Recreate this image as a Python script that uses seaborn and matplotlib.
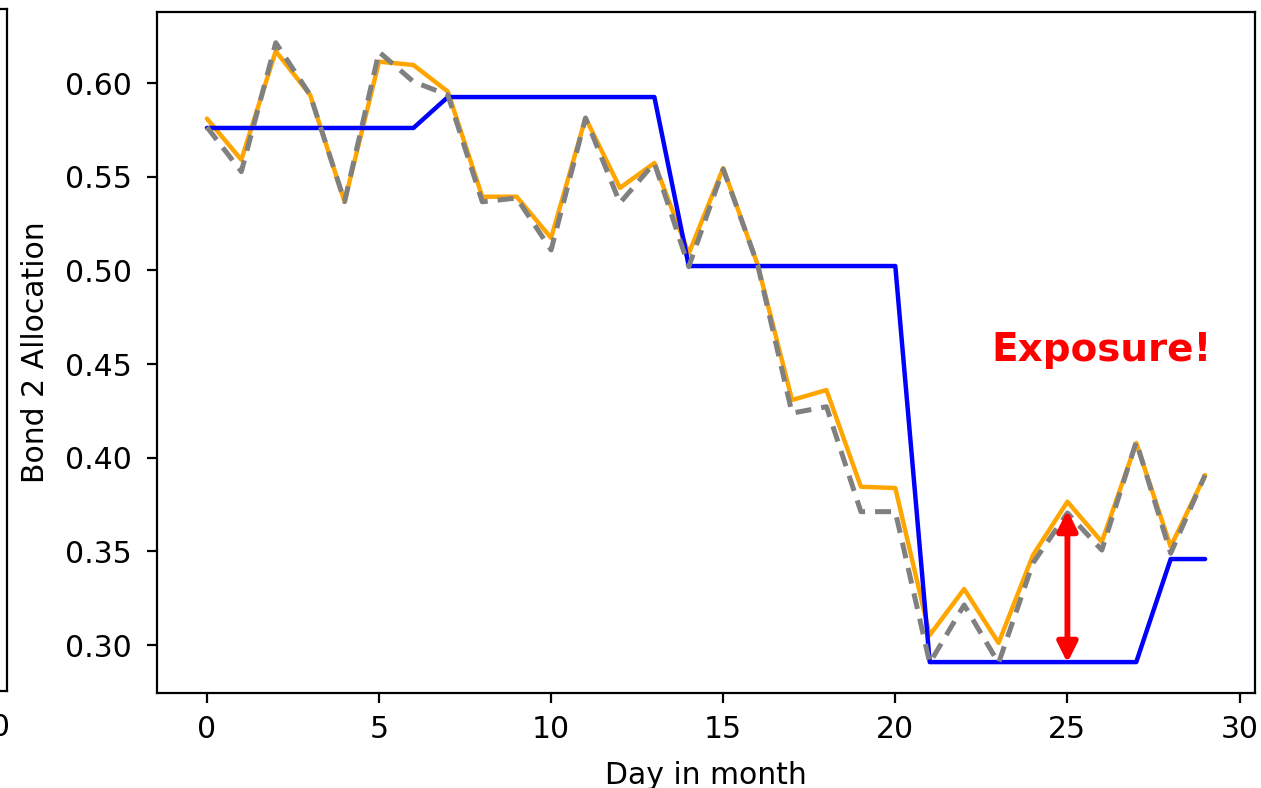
import numpy as np
import pandas as pd
import matplotlib
matplotlib.use("Agg")
import matplotlib.pyplot as plt
import seaborn as sns

days = list(range(30))
target = [0.576] * 7 + [0.5925] * 7 + [0.5023] * 7 + [0.2909] * 7 + [0.3459] * 2
actual = [0.581, 0.559, 0.617, 0.5936, 0.5367, 0.6114, 0.6096, 0.5954, 0.5393, 0.5393,
          0.5173, 0.5813, 0.5440, 0.5573, 0.5090, 0.5546, 0.5030, 0.4308, 0.4361, 0.3845,
          0.3838, 0.3053, 0.3299, 0.3011, 0.3480, 0.3765, 0.3551, 0.4078, 0.3525, 0.3907]
ideal = [0.5765, 0.5527, 0.6215, 0.5936, 0.5367, 0.6166, 0.6007, 0.5936, 0.5366, 0.5386,
         0.5109, 0.5813, 0.5360, 0.5573, 0.5020, 0.5540, 0.5030, 0.4238, 0.4272, 0.3712,
         0.3712, 0.2904, 0.3214, 0.2904, 0.3438, 0.3705, 0.3507, 0.4085, 0.3490, 0.3907]
x_ticks = [0, 5, 10, 15, 20, 25, 30]
y_ticks = [0.30, 0.35, 0.40, 0.45, 0.50, 0.55, 0.60]
arrow_day = 25
arrow_low = 0.2905
arrow_high = 0.372

sns.set_style("ticks")
plt.rcParams['font.family'] = ['DejaVu Sans']
plt.rcParams['text.color'] = 'black'
plt.rcParams['axes.labelcolor'] = 'black'
plt.rcParams['xtick.color'] = 'black'
plt.rcParams['ytick.color'] = 'black'

W, H = 1261, 788
fig = plt.figure(figsize=(W / 100, H / 100), dpi=100)

# main axes
ax = fig.add_axes([157 / W, 1 - 693 / H, (1255 - 157) / W, (693 - 12) / H])

df = pd.DataFrame({"day": days, "target": target, "actual": actual, "ideal": ideal})
sns.lineplot(data=df, x="day", y="actual", ax=ax, color="orange", linewidth=3.2)
sns.lineplot(data=df, x="day", y="target", ax=ax, color="#0000ff", linewidth=3.2)
sns.lineplot(data=df, x="day", y="ideal", ax=ax, color="gray", linewidth=3.6,
             linestyle=(0, (3.2, 2.0)))

ax.annotate("", xy=(arrow_day, arrow_high), xytext=(arrow_day, arrow_low),
            arrowprops=dict(arrowstyle="<|-|>", color="#ff0000", lw=4.2,
                            mutation_scale=30, shrinkA=0, shrinkB=0))
ax.text(29.2, 0.4575, "Exposure!", color="#ff0000", fontsize=28, fontweight="bold",
        ha="right", va="center")

ax.set_xticks(x_ticks)
ax.set_yticks(y_ticks)
ax.set_yticklabels([f"{v:.2f}" for v in y_ticks])
ax.set_xlim(-1.45, 30.45)
ax.set_ylim(0.2744, 0.6379)
ax.set_xlabel("Day in month", fontsize=21.5, labelpad=12)
ax.set_ylabel("Bond 2 Allocation", fontsize=21.5, labelpad=11)
ax.tick_params(axis="both", labelsize=21.5, width=1.6, length=7)
ax.tick_params(axis="y", pad=11)
ax.tick_params(axis="x", pad=9)
for s in ax.spines.values():
    s.set_linewidth(1.6)
    s.set_color("black")

# partial neighbouring axes on the left edge (mostly outside the figure)
axw = 1098
ax2 = fig.add_axes([(7 - axw) / W, 1 - 691 / H, axw / W, (691 - 9) / H])
ax2.set_xlim(-1.45, 30.45)
ax2.set_xticks(x_ticks)
ax2.set_yticks([])
ax2.tick_params(labelsize=21.5, width=1.6, length=7, pad=9)
for s in ax2.spines.values():
    s.set_linewidth(1.6)
    s.set_color("black")

fig.savefig("out.png", dpi=100, facecolor="white")
